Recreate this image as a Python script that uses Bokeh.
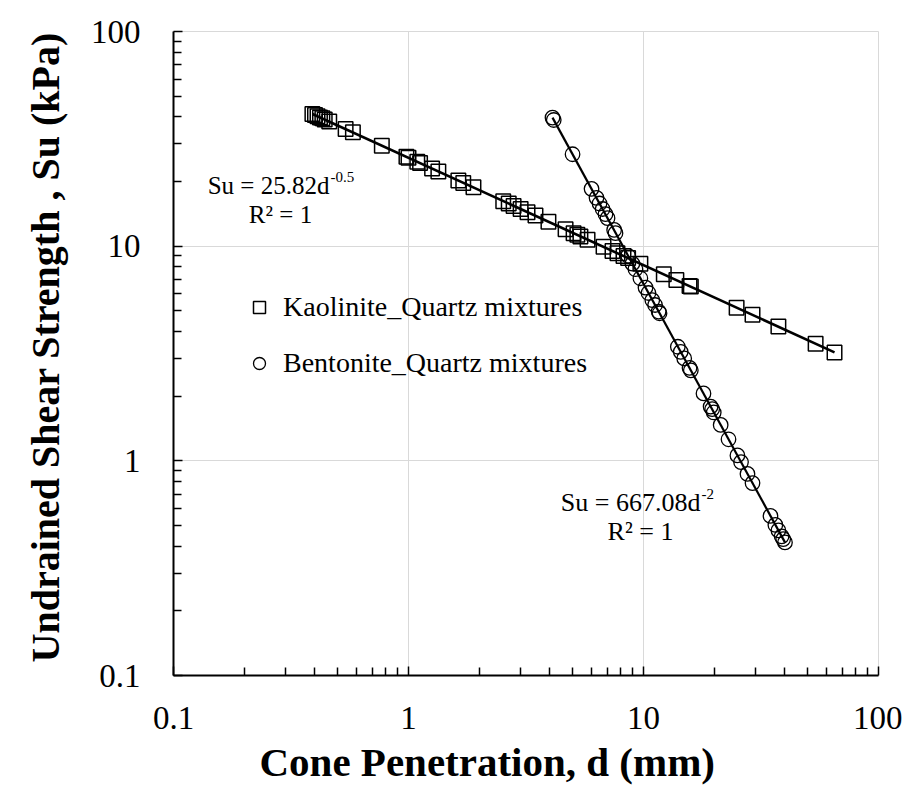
from bokeh.plotting import figure
from bokeh.models import Label, Legend, LegendItem, FixedTicker, CustomJSTickFormatter, Title
from bokeh.embed import file_html
from bokeh.resources import INLINE

# ---------------- data ----------------
kao_d = [0.39, 0.40, 0.41, 0.42, 0.43, 0.44, 0.46, 0.54, 0.58, 0.77, 0.98, 1.0,
         1.09, 1.12, 1.26, 1.34, 1.63, 1.71, 1.89, 2.53, 2.67, 2.80, 3.0, 3.21,
         3.47, 3.94, 4.66, 5.04, 5.23, 5.39, 5.78, 6.76, 7.38, 7.75, 8.22, 8.6,
         9.7, 12.2, 13.8, 15.7, 15.9, 24.9, 29.1, 37.5, 54.0, 65.0]
kao_su = [41.3, 40.8, 40.3, 39.8, 39.4, 38.9, 38.1, 35.1, 33.9, 29.4, 26.1, 25.8,
          24.7, 24.4, 23.0, 22.3, 20.2, 19.7, 18.8, 16.2, 15.8, 15.4, 14.9, 14.4,
          13.9, 13.0, 12.0, 11.5, 11.3, 11.1, 10.7, 9.93, 9.50, 9.27, 9.01, 8.80,
          8.29, 7.39, 6.95, 6.52, 6.48, 5.17, 4.79, 4.22, 3.51, 3.20]

ben_d = [4.10, 4.15, 4.99, 6.01, 6.31, 6.50, 6.70, 6.89, 7.03, 7.50, 7.60,
         8.60, 8.97, 9.24, 9.7, 10.2, 10.5, 10.9, 11.2, 11.6, 11.7, 14.0, 14.4,
         14.9, 15.7, 15.9, 18.0, 19.3, 19.6, 19.9, 21.3, 23.0, 25.1, 26.0, 27.7,
         29.1, 34.7, 36.4, 37.5, 38.7, 39.3, 40.0]
ben_su = [39.7, 38.7, 26.8, 18.5, 16.8, 15.8, 14.9, 14.1, 13.5, 11.9, 11.5,
          9.02, 8.29, 7.81, 7.09, 6.41, 6.05, 5.61, 5.32, 4.96, 4.87, 3.40, 3.22,
          3.00, 2.71, 2.64, 2.06, 1.79, 1.74, 1.68, 1.47, 1.26, 1.06, 0.987, 0.869,
          0.788, 0.554, 0.503, 0.474, 0.445, 0.432, 0.417]

# power-law trendlines (straight on log-log), end points
kao_fit_d = [0.39, 65.0]
kao_fit_su = [41.3, 3.20]
ben_fit_d = [4.10, 40.0]
ben_fit_su = [39.7, 0.417]

major_ticks = [0.1, 1, 10, 100]
minor_ticks = [0.2, 0.3, 0.4, 0.5, 0.6, 0.7, 0.8, 0.9,
               2, 3, 4, 5, 6, 7, 8, 9,
               20, 30, 40, 50, 60, 70, 80, 90]

series_names = ["Kaolinite_Quartz mixtures", "Bentonite_Quartz mixtures"]
x_title = "Cone Penetration, d (mm)"
y_title = "Undrained  Shear Strength , Su (kPa)"
kao_eq = ("Su = 25.82d", "-0.5", "R\u00b2 = 1")
ben_eq = ("Su = 667.08d", "-2", "R\u00b2 = 1")

SERIF = "Liberation Serif"

p = figure(width=902, height=789, x_axis_type="log", y_axis_type="log",
           x_range=(0.1, 100), y_range=(0.1, 100),
           output_backend="svg", toolbar_location=None,
           min_border_left=173, min_border_right=24,
           min_border_top=31, min_border_bottom=114)
p.background_fill_color = "white"
p.border_fill_color = "white"
p.outline_line_color = "#d9d9d9"
p.outline_line_width = 1

ticker = FixedTicker(ticks=major_ticks, minor_ticks=minor_ticks)
fmt = CustomJSTickFormatter(code="return tick.toString();")
for ax in (p.xaxis[0], p.yaxis[0]):
    ax.ticker = ticker
    ax.formatter = fmt
    ax.axis_line_color = "black"
    ax.axis_line_width = 2
    ax.major_tick_line_color = "black"
    ax.major_tick_line_width = 1.5
    ax.minor_tick_line_color = "black"
    ax.minor_tick_line_width = 1.5
    ax.major_tick_in = 9
    ax.major_tick_out = 0
    ax.minor_tick_in = 8
    ax.minor_tick_out = 0
    ax.major_label_text_font = SERIF
    ax.major_label_text_font_size = "33px"
    ax.major_label_text_color = "black"

p.xaxis.major_label_standoff = 31
p.yaxis.major_label_standoff = 33

# axis titles as side titles (offset from the frame edge like the reference)
p.add_layout(Title(text=x_title, align="left", offset=86, standoff=10,
                   text_font=SERIF, text_font_size="41px",
                   text_font_style="bold", text_color="black"), "below")
p.add_layout(Title(text=y_title, align="left", offset=13, standoff=39,
                   text_font=SERIF, text_font_size="40px",
                   text_font_style="bold", text_color="black"), "left")

for g in (p.xgrid[0], p.ygrid[0]):
    g.ticker = ticker
    g.grid_line_color = "#d9d9d9"
    g.grid_line_width = 1
    g.minor_grid_line_color = None

r_k = p.scatter(kao_d, kao_su, marker="square", size=14.5, fill_color=None,
                line_color="black", line_width=1.5)
r_b = p.scatter(ben_d, ben_su, marker="circle", size=14.5, fill_color=None,
                line_color="black", line_width=1.3)
p.line(kao_fit_d, kao_fit_su, line_color="black", line_width=2.6)
p.line(ben_fit_d, ben_fit_su, line_color="black", line_width=2.2)

legend = Legend(items=[LegendItem(label=series_names[0], renderers=[r_k]),
                       LegendItem(label=series_names[1], renderers=[r_b])],
                location=(71, 295), orientation="vertical",
                glyph_width=30, glyph_height=34, label_height=34,
                spacing=22, label_standoff=9, padding=0, margin=0,
                border_line_color=None, background_fill_alpha=0,
                label_text_font=SERIF, label_text_font_size="28px",
                label_text_color="black")
p.add_layout(legend)


def eq_labels(main, sup, r2, x_main, y_main, y_sup, x_r2, y_r2, size):
    p.add_layout(Label(x=x_main, y=y_main, text=main, text_align="right",
                       text_baseline="alphabetic", text_font=SERIF,
                       text_font_size=size, text_color="black"))
    p.add_layout(Label(x=x_main, y=y_sup, text=sup, text_align="left",
                       text_baseline="alphabetic", text_font=SERIF,
                       text_font_size="15px", text_color="black", x_offset=1))
    p.add_layout(Label(x=x_r2, y=y_r2, text=r2, text_align="center",
                       text_baseline="alphabetic", text_font=SERIF,
                       text_font_size=size, text_color="black"))


eq_labels(*kao_eq, 0.461, 19.16, 21.1, 0.2853, 14.04, "25px")
eq_labels(*ben_eq, 17.48, 0.6395, 0.7042, 9.71, 0.4686, "26px")

open("out.html", "w").write(file_html(p, INLINE))
